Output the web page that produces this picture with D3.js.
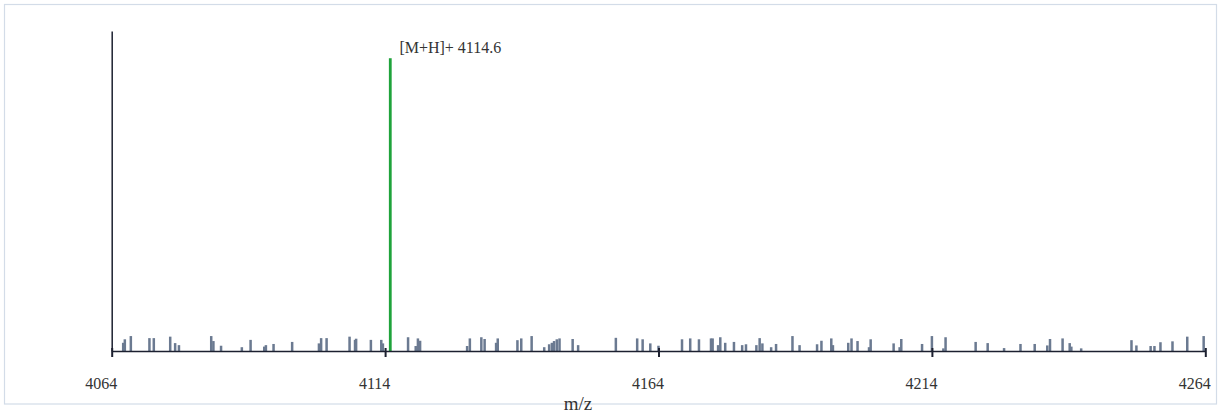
<!DOCTYPE html>
<html>
<head>
<meta charset="utf-8">
<script src="https://cdn.jsdelivr.net/npm/d3@7"></script>
<style>
  html, body { margin: 0; padding: 0; background: #fff; }
  svg { display: block; }
  text { font-family: "Liberation Serif", "Times New Roman", serif; fill: #333; }
</style>
</head>
<body>
<svg id="chart" width="1222" height="416"></svg>
<script>
// ---- data ----
const xTicks = [4064, 4114, 4164, 4214, 4264];
const xDomain = [4064, 4264];
const peakMz = 4114.6;
const peakInt = 100;
const peakLabel = "[M+H]+ 4114.6";
const xLabel = "m/z";
const noiseMz = [4066.1,4066.4,4067.5,4070.9,4071.7,4074.7,4075.6,4076.3,4082.2,4082.6,
  4084.0,4087.8,4089.4,4091.9,4092.2,4093.6,4097.0,4101.9,4102.3,4103.3,
  4107.5,4108.5,4108.7,4111.4,4113.3,4113.6,4118.2,4119.6,4120.0,4120.4,
  4129.0,4129.5,4131.6,4132.2,4134.3,4134.6,4138.2,4138.9,4140.8,4143.1,
  4144.0,4144.5,4144.9,4145.4,4145.9,4148.3,4149.3,4156.2,4160.1,4161.1,
  4162.5,4164.0,4168.3,4169.8,4171.4,4173.6,4173.9,4174.9,4175.3,4176.2,
  4177.8,4179.3,4180.0,4181.9,4182.5,4183.0,4184.6,4185.5,4188.5,4189.8,
  4193.0,4193.8,4195.6,4195.9,4198.7,4199.3,4200.4,4202.5,4202.8,4207.0,
  4208.1,4208.4,4212.2,4214.0,4216.1,4216.5,4222.0,4224.2,4227.2,4230.2,
  4232.8,4235.1,4235.6,4237.9,4239.2,4239.5,4241.3,4250.5,4251.4,4254.0,
  4254.7,4255.8,4258.0,4260.7,4263.7];
const noiseInt = [2.8,4.0,5.1,4.4,4.4,4.9,2.7,2.0,5.1,3.4,
  1.8,1.3,3.8,1.5,2.0,2.4,3.1,2.6,4.4,4.4,
  4.9,3.8,4.2,3.8,3.8,2.6,4.7,1.7,4.3,3.5,
  1.7,4.3,4.7,4.1,2.8,4.3,3.7,4.3,5.1,1.3,
  2.3,2.8,3.4,4.0,4.3,4.1,2.0,4.5,4.3,4.0,
  2.6,1.8,4.0,4.3,4.0,4.3,4.3,2.0,4.7,2.8,
  3.1,2.0,2.3,2.0,4.4,2.6,1.3,2.4,5.1,2.0,
  2.3,3.5,4.3,2.0,2.8,4.3,3.4,1.3,4.0,2.6,
  1.3,4.1,2.4,5.1,0.9,4.7,3.1,2.7,1.0,2.4,
  2.4,1.9,4.1,4.3,2.7,1.5,0.9,3.7,1.9,1.7,
  1.7,3.0,3.3,4.9,5.1];

// ---- layout ----
const svg = d3.select("#chart");
const mLeft = 111.7, mRight = 1205.3, mTop = 31, mBottom = 351;

svg.append("rect")
  .attr("x", 4.5).attr("y", 4.5)
  .attr("width", 1212).attr("height", 399.5)
  .attr("fill", "none").attr("stroke", "#d3dce8").attr("stroke-width", 1.2);

const x = d3.scaleLinear().domain(xDomain).range([mLeft, mRight]);
const y = d3.scaleLinear().domain([0, 109.3]).range([mBottom, mTop]);

const noise = noiseMz.map((m, i) => ({ mz: m, v: noiseInt[i] }));

svg.append("g").selectAll("rect")
  .data(noise).join("rect")
  .attr("x", d => x(d.mz) - 1.25)
  .attr("width", 2.5)
  .attr("y", d => y(d.v))
  .attr("height", d => y(0) - y(d.v))
  .attr("fill", "#6b7a91");

svg.append("rect")
  .attr("x", x(peakMz) + 0.5)
  .attr("width", 2.8)
  .attr("y", y(peakInt))
  .attr("height", y(0) - y(peakInt))
  .attr("fill", "#1fa33b");

svg.append("text")
  .attr("x", x(peakMz) + 11)
  .attr("y", y(peakInt) - 5)
  .attr("font-size", 16)
  .text(peakLabel);

// y axis (line only)
const yAxis = svg.append("g")
  .attr("transform", `translate(${mLeft},0)`)
  .call(d3.axisLeft(y).tickValues([]).tickSizeOuter(0));
yAxis.select(".domain").attr("stroke", "#1c2030").attr("stroke-width", 1.5);

// x axis
const xAxis = svg.append("g")
  .attr("transform", `translate(0,${mBottom})`)
  .call(d3.axisBottom(x).tickValues(xTicks).tickFormat(d3.format("d")).tickSizeInner(6).tickSizeOuter(0));
xAxis.select(".domain").attr("stroke", "#1c2030").attr("stroke-width", 1.5);
xAxis.selectAll(".tick line").attr("y1", -3).attr("y2", 6)
  .attr("stroke", "#1c2030").attr("stroke-width", 2);
xAxis.selectAll(".tick text")
  .attr("y", 38).attr("dy", 0).attr("dx", -11)
  .attr("font-size", 16)
  .attr("font-family", "Liberation Serif, Times New Roman, serif")
  .attr("fill", "#333");

svg.append("text")
  .attr("x", 578).attr("y", 410)
  .attr("text-anchor", "middle")
  .attr("font-size", 19)
  .text(xLabel);
</script>
</body>
</html>
